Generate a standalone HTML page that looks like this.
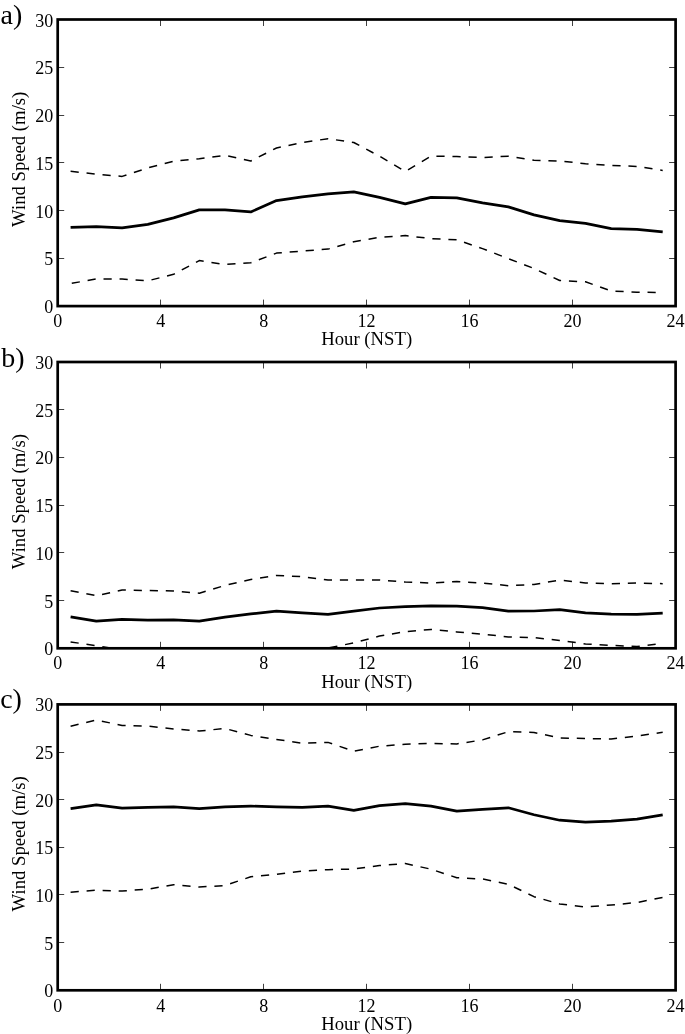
<!DOCTYPE html>
<html><head><meta charset="utf-8"><title>Wind Speed</title>
<style>
html,body{margin:0;padding:0;background:#fff;}
svg{display:block;}
text{font-family:"Liberation Serif","Times New Roman",Times,serif;fill:#000;}
.tk{font-size:18px;}
.lb{font-size:18.7px;}
.pl{font-size:28px;}
.fr{fill:none;stroke:#000;stroke-width:2.7;}
.mn{fill:none;stroke:#000;stroke-width:2.7;stroke-linejoin:round;stroke-linecap:butt;}
.ds{fill:none;stroke:#000;stroke-width:1.5;stroke-dasharray:8.2 7.85;stroke-linejoin:round;}
.t{stroke:#000;stroke-width:0.75;fill:none;}
</style></head><body>
<svg width="685" height="1034" viewBox="0 0 685 1034">
<rect width="685" height="1034" fill="#fff"/>
<defs><clipPath id="cp0"><rect x="57.7" y="19.5" width="617.90" height="286.60"/></clipPath></defs>
<g clip-path="url(#cp0)">
<polyline class="ds" points="70.6,171.2 96.3,174.2 122.1,176.4 147.8,167.9 173.6,161.2 199.3,158.7 225.0,155.4 250.8,161.0 276.5,148.0 302.3,142.5 328.0,138.7 353.8,142.5 379.5,156.2 405.3,171.4 431.0,156.2 456.8,156.5 482.5,157.5 508.3,156.2 534.0,160.2 559.7,161.0 585.5,163.7 611.2,165.4 637.0,166.4 662.7,170.4"/>
<polyline class="ds" stroke-dashoffset="-1.2" points="70.6,283.5 96.3,279.0 122.1,279.0 147.8,280.8 173.6,274.3 199.3,260.6 225.0,264.5 250.8,262.8 276.5,253.1 302.3,251.1 328.0,249.1 353.8,241.8 379.5,237.3 405.3,235.6 431.0,238.6 456.8,239.8 482.5,248.6 508.3,258.6 534.0,268.5 559.7,280.5 585.5,281.8 611.2,291.0 637.0,292.2 662.7,292.5"/>
<polyline class="mn" points="70.6,227.4 96.3,226.6 122.1,227.9 147.8,224.4 173.6,217.9 199.3,209.9 225.0,209.9 250.8,211.9 276.5,200.6 302.3,196.9 328.0,193.9 353.8,191.9 379.5,197.4 405.3,203.9 431.0,197.4 456.8,197.9 482.5,202.9 508.3,206.9 534.0,214.9 559.7,220.6 585.5,223.4 611.2,228.6 637.0,229.4 662.7,231.8"/>
</g>
<path class="t" d="M160.50 306.1 v-6.5 M160.50 19.5 v6.5 M263.50 306.1 v-6.5 M263.50 19.5 v6.5 M366.50 306.1 v-6.5 M366.50 19.5 v6.5 M469.50 306.1 v-6.5 M469.50 19.5 v6.5 M572.50 306.1 v-6.5 M572.50 19.5 v6.5 M57.7 258.50 h6.5 M675.6 258.50 h-6.5 M57.7 210.50 h6.5 M675.6 210.50 h-6.5 M57.7 162.50 h6.5 M675.6 162.50 h-6.5 M57.7 115.50 h6.5 M675.6 115.50 h-6.5 M57.7 67.50 h6.5 M675.6 67.50 h-6.5"/>
<rect class="fr" x="57.7" y="19.5" width="617.90" height="286.60"/>
<text class="tk" x="57.7" y="326.9" text-anchor="middle">0</text>
<text class="tk" x="160.7" y="326.9" text-anchor="middle">4</text>
<text class="tk" x="263.7" y="326.9" text-anchor="middle">8</text>
<text class="tk" x="366.6" y="326.9" text-anchor="middle">12</text>
<text class="tk" x="469.6" y="326.9" text-anchor="middle">16</text>
<text class="tk" x="572.6" y="326.9" text-anchor="middle">20</text>
<text class="tk" x="675.6" y="326.9" text-anchor="middle">24</text>
<text class="tk" x="53.3" y="313.1" text-anchor="end">0</text>
<text class="tk" x="53.3" y="265.3" text-anchor="end">5</text>
<text class="tk" x="53.3" y="217.6" text-anchor="end">10</text>
<text class="tk" x="53.3" y="169.8" text-anchor="end">15</text>
<text class="tk" x="53.3" y="122.0" text-anchor="end">20</text>
<text class="tk" x="53.3" y="74.3" text-anchor="end">25</text>
<text class="tk" x="53.3" y="26.5" text-anchor="end">30</text>
<text class="lb" x="366.7" y="345.4" text-anchor="middle">Hour (NST)</text>
<text class="lb" transform="translate(24.9 159.3) rotate(-90)" text-anchor="middle">Wind Speed (m/s)</text>
<text class="pl" x="0.5" y="23.9">a)</text>
<defs><clipPath id="cp1"><rect x="57.7" y="362.0" width="617.90" height="286.30"/></clipPath></defs>
<g clip-path="url(#cp1)">
<polyline class="ds" points="70.6,590.7 96.3,595.7 122.1,590.0 147.8,590.5 173.6,591.0 199.3,593.2 225.0,585.4 250.8,579.5 276.5,575.5 302.3,576.7 328.0,580.0 353.8,580.0 379.5,580.0 405.3,582.0 431.0,583.0 456.8,581.5 482.5,583.0 508.3,585.7 534.0,584.5 559.7,580.0 585.5,583.0 611.2,583.7 637.0,583.0 662.7,583.7"/>
<polyline class="ds" points="70.6,641.9 96.3,645.8 122.1,649.7 147.8,655.0 173.6,655.0 199.3,673.6 225.0,655.0 250.8,655.0 276.5,655.0 302.3,655.0 328.0,648.0 353.8,642.9 379.5,636.1 405.3,631.6 431.0,629.4 456.8,631.9 482.5,634.1 508.3,636.9 534.0,637.6 559.7,640.4 585.5,643.9 611.2,645.4 637.0,646.6 662.7,643.4"/>
<polyline class="mn" points="70.6,616.9 96.3,621.2 122.1,619.4 147.8,620.2 173.6,619.9 199.3,621.2 225.0,617.2 250.8,613.9 276.5,611.2 302.3,612.9 328.0,614.4 353.8,611.2 379.5,608.0 405.3,606.7 431.0,605.9 456.8,606.2 482.5,607.7 508.3,611.2 534.0,611.0 559.7,609.7 585.5,612.9 611.2,614.2 637.0,614.4 662.7,613.2"/>
</g>
<path class="t" d="M160.50 648.3 v-6.5 M160.50 362.0 v6.5 M263.50 648.3 v-6.5 M263.50 362.0 v6.5 M366.50 648.3 v-6.5 M366.50 362.0 v6.5 M469.50 648.3 v-6.5 M469.50 362.0 v6.5 M572.50 648.3 v-6.5 M572.50 362.0 v6.5 M57.7 600.50 h6.5 M675.6 600.50 h-6.5 M57.7 552.50 h6.5 M675.6 552.50 h-6.5 M57.7 505.50 h6.5 M675.6 505.50 h-6.5 M57.7 457.50 h6.5 M675.6 457.50 h-6.5 M57.7 409.50 h6.5 M675.6 409.50 h-6.5"/>
<rect class="fr" x="57.7" y="362.0" width="617.90" height="286.30"/>
<text class="tk" x="57.7" y="669.1" text-anchor="middle">0</text>
<text class="tk" x="160.7" y="669.1" text-anchor="middle">4</text>
<text class="tk" x="263.7" y="669.1" text-anchor="middle">8</text>
<text class="tk" x="366.6" y="669.1" text-anchor="middle">12</text>
<text class="tk" x="469.6" y="669.1" text-anchor="middle">16</text>
<text class="tk" x="572.6" y="669.1" text-anchor="middle">20</text>
<text class="tk" x="675.6" y="669.1" text-anchor="middle">24</text>
<text class="tk" x="53.3" y="655.3" text-anchor="end">0</text>
<text class="tk" x="53.3" y="607.6" text-anchor="end">5</text>
<text class="tk" x="53.3" y="559.9" text-anchor="end">10</text>
<text class="tk" x="53.3" y="512.1" text-anchor="end">15</text>
<text class="tk" x="53.3" y="464.4" text-anchor="end">20</text>
<text class="tk" x="53.3" y="416.7" text-anchor="end">25</text>
<text class="tk" x="53.3" y="369.0" text-anchor="end">30</text>
<text class="lb" x="366.7" y="687.6" text-anchor="middle">Hour (NST)</text>
<text class="lb" transform="translate(24.9 501.6) rotate(-90)" text-anchor="middle">Wind Speed (m/s)</text>
<text class="pl" x="1.3" y="366.6">b)</text>
<defs><clipPath id="cp2"><rect x="57.7" y="704.4" width="617.90" height="285.90"/></clipPath></defs>
<g clip-path="url(#cp2)">
<polyline class="ds" points="70.6,726.2 96.3,720.0 122.1,725.5 147.8,726.0 173.6,729.0 199.3,731.0 225.0,728.5 250.8,735.4 276.5,739.4 302.3,743.2 328.0,742.4 353.8,751.2 379.5,746.2 405.3,744.2 431.0,743.4 456.8,743.9 482.5,739.9 508.3,731.7 534.0,732.5 559.7,738.0 585.5,738.5 611.2,739.0 637.0,736.0 662.7,732.3"/>
<polyline class="ds" points="70.6,892.2 96.3,890.2 122.1,891.0 147.8,889.2 173.6,884.7 199.3,887.0 225.0,885.6 250.8,876.7 276.5,874.2 302.3,871.0 328.0,869.7 353.8,869.0 379.5,865.5 405.3,863.5 431.0,869.2 456.8,877.7 482.5,879.0 508.3,884.2 534.0,896.7 559.7,904.0 585.5,907.0 611.2,905.0 637.0,902.5 662.7,897.5"/>
<polyline class="mn" points="70.6,808.6 96.3,804.9 122.1,808.1 147.8,807.3 173.6,806.8 199.3,808.6 225.0,806.8 250.8,806.1 276.5,806.8 302.3,807.3 328.0,806.1 353.8,810.3 379.5,805.6 405.3,803.6 431.0,806.1 456.8,811.1 482.5,809.3 508.3,807.8 534.0,814.8 559.7,820.2 585.5,822.2 611.2,821.2 637.0,819.2 662.7,814.9"/>
</g>
<path class="t" d="M160.50 990.3 v-6.5 M160.50 704.4 v6.5 M263.50 990.3 v-6.5 M263.50 704.4 v6.5 M366.50 990.3 v-6.5 M366.50 704.4 v6.5 M469.50 990.3 v-6.5 M469.50 704.4 v6.5 M572.50 990.3 v-6.5 M572.50 704.4 v6.5 M57.7 942.50 h6.5 M675.6 942.50 h-6.5 M57.7 894.50 h6.5 M675.6 894.50 h-6.5 M57.7 847.50 h6.5 M675.6 847.50 h-6.5 M57.7 799.50 h6.5 M675.6 799.50 h-6.5 M57.7 752.50 h6.5 M675.6 752.50 h-6.5"/>
<rect class="fr" x="57.7" y="704.4" width="617.90" height="285.90"/>
<text class="tk" x="57.7" y="1011.7" text-anchor="middle">0</text>
<text class="tk" x="160.7" y="1011.7" text-anchor="middle">4</text>
<text class="tk" x="263.7" y="1011.7" text-anchor="middle">8</text>
<text class="tk" x="366.6" y="1011.7" text-anchor="middle">12</text>
<text class="tk" x="469.6" y="1011.7" text-anchor="middle">16</text>
<text class="tk" x="572.6" y="1011.7" text-anchor="middle">20</text>
<text class="tk" x="675.6" y="1011.7" text-anchor="middle">24</text>
<text class="tk" x="53.3" y="997.3" text-anchor="end">0</text>
<text class="tk" x="53.3" y="949.6" text-anchor="end">5</text>
<text class="tk" x="53.3" y="902.0" text-anchor="end">10</text>
<text class="tk" x="53.3" y="854.3" text-anchor="end">15</text>
<text class="tk" x="53.3" y="806.7" text-anchor="end">20</text>
<text class="tk" x="53.3" y="759.0" text-anchor="end">25</text>
<text class="tk" x="53.3" y="711.4" text-anchor="end">30</text>
<text class="lb" x="366.7" y="1030.2" text-anchor="middle">Hour (NST)</text>
<text class="lb" transform="translate(24.9 843.8) rotate(-90)" text-anchor="middle">Wind Speed (m/s)</text>
<text class="pl" x="0.2" y="707.8">c)</text>
</svg>
</body></html>
